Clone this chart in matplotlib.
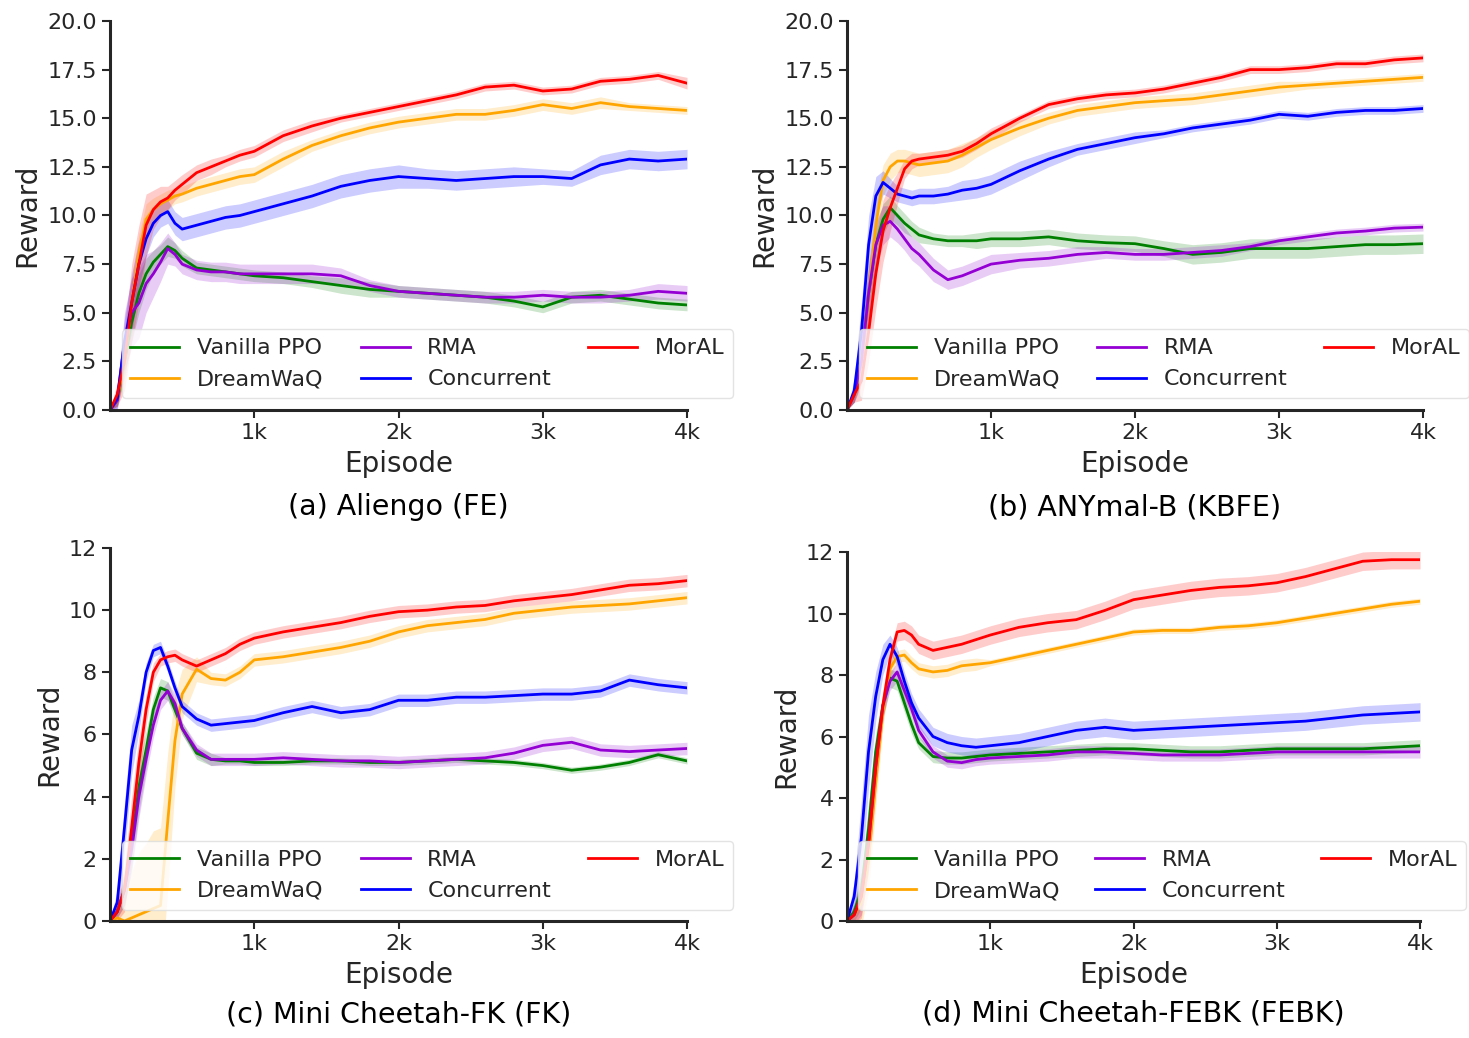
import matplotlib.pyplot as plt
import numpy as np

episodes = [0, 50, 100, 150, 200, 250, 300, 350, 400, 450, 500, 600, 700, 800, 900,
            1000, 1200, 1400, 1600, 1800, 2000, 2200, 2400, 2600, 2800, 3000,
            3200, 3400, 3600, 3800, 4000]

methods = ['Vanilla PPO', 'DreamWaQ', 'RMA', 'Concurrent', 'MorAL']
colors = ['green', 'orange', 'darkviolet', 'blue', 'red']

# (a) Aliengo (FE)
a_ppo = [0, 0.5, 2.5, 4.5, 6.0, 7.0, 7.6, 8.0, 8.4, 8.2, 7.8, 7.3, 7.2, 7.1, 7.0, 6.9, 6.8, 6.6, 6.4, 6.2, 6.1, 6.0, 5.9, 5.8, 5.6, 5.3, 5.8, 5.9, 5.7, 5.5, 5.4]
a_dwq = [0, 0.6, 2.5, 5.5, 8.0, 9.8, 10.3, 10.6, 10.8, 11.0, 11.1, 11.4, 11.6, 11.8, 12.0, 12.1, 12.9, 13.6, 14.1, 14.5, 14.8, 15.0, 15.2, 15.2, 15.4, 15.7, 15.5, 15.8, 15.6, 15.5, 15.4]
a_rma = [0, 0.5, 3.5, 5.0, 5.5, 6.5, 7.0, 7.6, 8.3, 8.0, 7.5, 7.2, 7.1, 7.1, 7.0, 7.0, 7.0, 7.0, 6.9, 6.4, 6.1, 6.0, 5.9, 5.8, 5.8, 5.9, 5.8, 5.8, 5.9, 6.1, 6.0]
a_con = [0, 0.6, 3.5, 5.5, 7.5, 8.8, 9.6, 10.0, 10.2, 9.6, 9.3, 9.5, 9.7, 9.9, 10.0, 10.2, 10.6, 11.0, 11.5, 11.8, 12.0, 11.9, 11.8, 11.9, 12.0, 12.0, 11.9, 12.6, 12.9, 12.8, 12.9]
a_mor = [0, 0.8, 2.5, 5.5, 7.5, 9.5, 10.3, 10.7, 10.9, 11.3, 11.6, 12.2, 12.5, 12.8, 13.1, 13.3, 14.1, 14.6, 15.0, 15.3, 15.6, 15.9, 16.2, 16.6, 16.7, 16.4, 16.5, 16.9, 17.0, 17.2, 16.8]
a_ppo_sd = [0, 0.3, 0.8, 1.0, 1.0, 0.8, 0.6, 0.5, 0.5, 0.4, 0.4, 0.3, 0.3, 0.3, 0.3, 0.3, 0.3, 0.3, 0.4, 0.4, 0.3, 0.3, 0.3, 0.3, 0.3, 0.3, 0.3, 0.3, 0.3, 0.3, 0.3]
a_dwq_sd = [0, 0.4, 1.0, 1.2, 1.0, 0.8, 0.6, 0.5, 0.5, 0.4, 0.4, 0.4, 0.4, 0.4, 0.4, 0.4, 0.4, 0.3, 0.3, 0.3, 0.3, 0.3, 0.3, 0.3, 0.3, 0.3, 0.3, 0.3, 0.2, 0.2, 0.2]
a_rma_sd = [0, 0.5, 1.5, 1.8, 1.8, 1.5, 1.2, 1.0, 0.8, 0.6, 0.5, 0.5, 0.5, 0.5, 0.5, 0.5, 0.5, 0.5, 0.4, 0.3, 0.3, 0.3, 0.3, 0.3, 0.3, 0.3, 0.3, 0.3, 0.3, 0.4, 0.4]
a_con_sd = [0, 0.5, 1.2, 1.5, 1.2, 0.9, 0.7, 0.6, 0.6, 0.6, 0.6, 0.6, 0.6, 0.6, 0.6, 0.6, 0.6, 0.6, 0.6, 0.6, 0.6, 0.5, 0.5, 0.5, 0.5, 0.4, 0.4, 0.5, 0.5, 0.5, 0.5]
a_mor_sd = [0, 0.6, 1.5, 2.0, 2.0, 1.6, 1.0, 0.8, 0.6, 0.5, 0.5, 0.4, 0.4, 0.3, 0.3, 0.3, 0.3, 0.3, 0.2, 0.2, 0.2, 0.2, 0.2, 0.2, 0.2, 0.2, 0.2, 0.2, 0.2, 0.2, 0.3]

# (b) ANYmal-B (KBFE)
b_ppo = [0, 0.8, 2.5, 6.0, 8.5, 9.8, 10.4, 10.0, 9.6, 9.3, 9.0, 8.8, 8.7, 8.7, 8.7, 8.8, 8.8, 8.9, 8.7, 8.6, 8.55, 8.3, 8.0, 8.1, 8.3, 8.3, 8.3, 8.4, 8.5, 8.5, 8.55]
b_dwq = [0, 0.8, 2.5, 6.0, 9.5, 11.8, 12.5, 12.8, 12.8, 12.7, 12.6, 12.7, 12.8, 13.1, 13.5, 13.9, 14.5, 15.0, 15.4, 15.6, 15.8, 15.9, 16.0, 16.2, 16.4, 16.6, 16.7, 16.8, 16.9, 17.0, 17.1]
b_rma = [0, 0.8, 2.5, 6.0, 8.5, 9.5, 9.7, 9.3, 8.8, 8.3, 8.0, 7.2, 6.7, 6.9, 7.2, 7.5, 7.7, 7.8, 8.0, 8.1, 8.0, 8.0, 8.1, 8.2, 8.4, 8.7, 8.9, 9.1, 9.2, 9.35, 9.4]
b_con = [0, 1.0, 4.0, 8.5, 11.0, 11.7, 11.4, 11.1, 11.0, 10.9, 11.0, 11.0, 11.1, 11.3, 11.4, 11.6, 12.3, 12.9, 13.4, 13.7, 14.0, 14.2, 14.5, 14.7, 14.9, 15.2, 15.1, 15.3, 15.4, 15.4, 15.5]
b_mor = [0, 0.8, 1.5, 4.0, 7.0, 9.2, 10.4, 11.4, 12.4, 12.8, 12.9, 13.0, 13.1, 13.3, 13.7, 14.2, 15.0, 15.7, 16.0, 16.2, 16.3, 16.5, 16.8, 17.1, 17.5, 17.5, 17.6, 17.8, 17.8, 18.0, 18.1]
b_ppo_sd = [0, 0.4, 1.0, 1.2, 1.0, 0.8, 0.6, 0.5, 0.5, 0.4, 0.4, 0.3, 0.3, 0.3, 0.4, 0.4, 0.4, 0.4, 0.4, 0.4, 0.4, 0.4, 0.5, 0.5, 0.5, 0.5, 0.5, 0.5, 0.5, 0.5, 0.5]
b_dwq_sd = [0, 0.4, 1.0, 1.4, 1.2, 0.8, 0.7, 0.6, 0.6, 0.6, 0.6, 0.6, 0.6, 0.6, 0.5, 0.5, 0.4, 0.3, 0.3, 0.3, 0.3, 0.3, 0.3, 0.3, 0.3, 0.3, 0.2, 0.2, 0.2, 0.2, 0.2]
b_rma_sd = [0, 0.4, 1.2, 1.5, 1.2, 1.0, 0.8, 0.7, 0.6, 0.6, 0.6, 0.6, 0.5, 0.5, 0.5, 0.5, 0.4, 0.4, 0.4, 0.3, 0.3, 0.3, 0.3, 0.3, 0.2, 0.2, 0.2, 0.2, 0.2, 0.2, 0.2]
b_con_sd = [0, 0.6, 1.5, 1.5, 1.0, 0.6, 0.5, 0.4, 0.4, 0.4, 0.4, 0.4, 0.4, 0.5, 0.5, 0.5, 0.5, 0.4, 0.3, 0.3, 0.3, 0.2, 0.2, 0.2, 0.2, 0.2, 0.2, 0.2, 0.2, 0.2, 0.2]
b_mor_sd = [0, 0.4, 1.0, 1.5, 1.8, 1.6, 1.2, 0.8, 0.5, 0.4, 0.3, 0.3, 0.3, 0.3, 0.3, 0.3, 0.2, 0.2, 0.2, 0.2, 0.2, 0.2, 0.2, 0.2, 0.2, 0.2, 0.2, 0.2, 0.2, 0.2, 0.2]

# (c) Mini Cheetah-FK (FK)
c_ppo = [0, 0.3, 1.0, 2.5, 4.3, 5.5, 6.8, 7.5, 7.4, 6.8, 6.2, 5.4, 5.2, 5.15, 5.15, 5.1, 5.1, 5.15, 5.15, 5.1, 5.1, 5.15, 5.2, 5.15, 5.1, 5.0, 4.85, 4.95, 5.1, 5.35, 5.15]
c_dwq = [0, 0.1, 0.0, 0.1, 0.2, 0.3, 0.4, 0.5, 3.2, 5.8, 7.3, 8.1, 7.8, 7.75, 8.0, 8.4, 8.5, 8.65, 8.8, 9.0, 9.3, 9.5, 9.6, 9.7, 9.9, 10.0, 10.1, 10.15, 10.2, 10.3, 10.4]
c_rma = [0, 0.3, 1.0, 2.3, 4.0, 5.2, 6.3, 7.1, 7.4, 7.0, 6.2, 5.5, 5.2, 5.2, 5.2, 5.2, 5.25, 5.2, 5.15, 5.15, 5.1, 5.15, 5.2, 5.25, 5.4, 5.65, 5.75, 5.5, 5.45, 5.5, 5.55]
c_con = [0, 0.6, 3.0, 5.5, 6.6, 8.0, 8.7, 8.8, 8.2, 7.5, 6.9, 6.5, 6.3, 6.35, 6.4, 6.45, 6.7, 6.9, 6.7, 6.8, 7.1, 7.1, 7.2, 7.2, 7.25, 7.3, 7.3, 7.4, 7.75, 7.6, 7.5]
c_mor = [0, 0.3, 1.0, 3.0, 5.1, 6.8, 8.0, 8.4, 8.5, 8.55, 8.4, 8.2, 8.4, 8.6, 8.9, 9.1, 9.3, 9.45, 9.6, 9.8, 9.95, 10.0, 10.1, 10.15, 10.3, 10.4, 10.5, 10.65, 10.8, 10.85, 10.95]
c_ppo_sd = [0, 0.2, 0.5, 0.8, 0.8, 0.6, 0.4, 0.3, 0.3, 0.3, 0.2, 0.2, 0.2, 0.1, 0.1, 0.1, 0.1, 0.1, 0.1, 0.1, 0.1, 0.1, 0.1, 0.1, 0.1, 0.1, 0.1, 0.1, 0.1, 0.1, 0.1]
c_dwq_sd = [0, 0.3, 0.8, 1.5, 2.0, 2.2, 2.5, 2.5, 2.2, 1.5, 0.8, 0.4, 0.2, 0.2, 0.2, 0.2, 0.2, 0.2, 0.2, 0.2, 0.2, 0.2, 0.2, 0.2, 0.2, 0.2, 0.2, 0.2, 0.2, 0.2, 0.2]
c_rma_sd = [0, 0.2, 0.5, 0.7, 0.7, 0.5, 0.4, 0.3, 0.3, 0.3, 0.2, 0.2, 0.2, 0.2, 0.2, 0.2, 0.2, 0.2, 0.2, 0.2, 0.2, 0.2, 0.2, 0.2, 0.2, 0.2, 0.2, 0.2, 0.2, 0.2, 0.2]
c_con_sd = [0, 0.4, 0.8, 0.8, 0.5, 0.3, 0.2, 0.2, 0.2, 0.2, 0.2, 0.2, 0.2, 0.2, 0.2, 0.2, 0.2, 0.2, 0.2, 0.2, 0.2, 0.2, 0.2, 0.2, 0.2, 0.2, 0.2, 0.2, 0.2, 0.2, 0.2]
c_mor_sd = [0, 0.3, 0.7, 1.0, 0.8, 0.5, 0.3, 0.2, 0.2, 0.2, 0.2, 0.2, 0.2, 0.2, 0.2, 0.2, 0.2, 0.2, 0.2, 0.2, 0.2, 0.2, 0.2, 0.2, 0.2, 0.2, 0.2, 0.2, 0.2, 0.2, 0.2]

# (d) Mini Cheetah-FEBK (FEBK)
d_ppo = [0, 0.3, 1.0, 3.0, 5.5, 7.0, 7.9, 7.8, 7.1, 6.4, 5.8, 5.35, 5.3, 5.3, 5.35, 5.4, 5.45, 5.5, 5.55, 5.6, 5.6, 5.55, 5.5, 5.5, 5.55, 5.6, 5.6, 5.6, 5.6, 5.65, 5.7]
d_dwq = [0, 0.2, 0.6, 2.0, 4.5, 6.8, 8.2, 8.6, 8.65, 8.4, 8.2, 8.1, 8.15, 8.3, 8.35, 8.4, 8.6, 8.8, 9.0, 9.2, 9.4, 9.45, 9.45, 9.55, 9.6, 9.7, 9.85, 10.0, 10.15, 10.3, 10.4]
d_rma = [0, 0.2, 0.8, 2.5, 5.0, 7.0, 7.8, 8.1, 7.5, 6.9, 6.2, 5.5, 5.2, 5.15, 5.25, 5.3, 5.35, 5.4, 5.5, 5.5, 5.45, 5.4, 5.4, 5.4, 5.45, 5.5, 5.5, 5.5, 5.5, 5.5, 5.5]
d_con = [0, 0.8, 2.7, 5.5, 7.3, 8.5, 9.0, 8.6, 7.8, 7.1, 6.6, 6.0, 5.8, 5.7, 5.65, 5.7, 5.8, 6.0, 6.2, 6.3, 6.2, 6.25, 6.3, 6.35, 6.4, 6.45, 6.5, 6.6, 6.7, 6.75, 6.8]
d_mor = [0, 0.2, 0.8, 2.5, 5.0, 7.0, 8.5, 9.4, 9.45, 9.3, 9.0, 8.8, 8.9, 9.0, 9.15, 9.3, 9.55, 9.7, 9.8, 10.1, 10.45, 10.6, 10.75, 10.85, 10.9, 11.0, 11.2, 11.45, 11.7, 11.75, 11.75]
d_ppo_sd = [0, 0.3, 0.6, 0.8, 0.6, 0.4, 0.3, 0.3, 0.3, 0.3, 0.2, 0.2, 0.2, 0.2, 0.2, 0.2, 0.2, 0.2, 0.2, 0.2, 0.2, 0.2, 0.2, 0.2, 0.2, 0.2, 0.2, 0.2, 0.2, 0.2, 0.2]
d_dwq_sd = [0, 0.3, 0.8, 1.0, 0.8, 0.5, 0.3, 0.2, 0.2, 0.2, 0.2, 0.2, 0.2, 0.2, 0.2, 0.1, 0.1, 0.1, 0.1, 0.1, 0.1, 0.1, 0.1, 0.1, 0.1, 0.1, 0.1, 0.1, 0.1, 0.1, 0.1]
d_rma_sd = [0, 0.3, 0.6, 0.8, 0.6, 0.4, 0.3, 0.3, 0.3, 0.2, 0.2, 0.2, 0.2, 0.2, 0.2, 0.2, 0.2, 0.2, 0.2, 0.2, 0.2, 0.2, 0.2, 0.2, 0.2, 0.2, 0.2, 0.2, 0.2, 0.2, 0.2]
d_con_sd = [0, 0.5, 1.2, 1.2, 0.8, 0.5, 0.3, 0.3, 0.3, 0.3, 0.3, 0.3, 0.3, 0.3, 0.3, 0.3, 0.3, 0.3, 0.3, 0.3, 0.3, 0.3, 0.3, 0.3, 0.3, 0.3, 0.3, 0.3, 0.3, 0.3, 0.3]
d_mor_sd = [0, 0.3, 0.7, 0.9, 0.8, 0.5, 0.3, 0.3, 0.3, 0.3, 0.3, 0.3, 0.3, 0.3, 0.3, 0.3, 0.3, 0.3, 0.3, 0.3, 0.3, 0.3, 0.3, 0.3, 0.3, 0.3, 0.3, 0.3, 0.3, 0.3, 0.3]

panels = [
    ('(a) Aliengo (FE)', [a_ppo, a_dwq, a_rma, a_con, a_mor],
     [a_ppo_sd, a_dwq_sd, a_rma_sd, a_con_sd, a_mor_sd], 20, np.arange(0, 20.1, 2.5), '{:.1f}'),
    ('(b) ANYmal-B (KBFE)', [b_ppo, b_dwq, b_rma, b_con, b_mor],
     [b_ppo_sd, b_dwq_sd, b_rma_sd, b_con_sd, b_mor_sd], 20, np.arange(0, 20.1, 2.5), '{:.1f}'),
    ('(c) Mini Cheetah-FK (FK)', [c_ppo, c_dwq, c_rma, c_con, c_mor],
     [c_ppo_sd, c_dwq_sd, c_rma_sd, c_con_sd, c_mor_sd], 12, np.arange(0, 13, 2), '{:.0f}'),
    ('(d) Mini Cheetah-FEBK (FEBK)', [d_ppo, d_dwq, d_rma, d_con, d_mor],
     [d_ppo_sd, d_dwq_sd, d_rma_sd, d_con_sd, d_mor_sd], 12, np.arange(0, 13, 2), '{:.0f}'),
]

xticks = [1000, 2000, 3000, 4000]
xticklabels = ['1k', '2k', '3k', '4k']

# axes rectangles in figure coords
rects = [
    [0.0749, 0.605, 0.3928, 0.3748],
    [0.5766, 0.605, 0.3921, 0.3748],
    [0.0749, 0.1127, 0.3928, 0.3594],
    [0.5766, 0.1127, 0.3901, 0.3555],
]

ink = '#262626'
fig = plt.figure(figsize=(14.69, 10.38), dpi=100)
x = np.array(episodes)

for rect, (title, series, sds, ymax, yticks, fmt) in zip(rects, panels):
    ax = fig.add_axes(rect)
    for vals, sd, col, name in zip(series, sds, colors, methods):
        v = np.array(vals)
        s = np.array(sd)
        ax.fill_between(x, v - s, v + s, color=col, alpha=0.2, lw=0)
        ax.plot(x, v, color=col, lw=2, label=name)
    ax.set_xlim(0, 4000)
    ax.set_ylim(0, ymax)
    ax.set_xticks(xticks)
    ax.set_xticklabels(xticklabels)
    ax.set_yticks(yticks)
    ax.set_yticklabels([fmt.format(t) for t in yticks])
    ax.tick_params(labelsize=16, colors=ink, width=1.5, length=6, direction='out')
    for sp in ['top', 'right']:
        ax.spines[sp].set_visible(False)
    for sp in ['left', 'bottom']:
        ax.spines[sp].set_linewidth(2.2)
        ax.spines[sp].set_color(ink)
    ax.set_ylabel('Reward', fontsize=20, color=ink)
    ax.set_xlabel('Episode', fontsize=20, color=ink, labelpad=5)
    ax.text(0.5, -0.25, title, transform=ax.transAxes, ha='center', va='center',
            fontsize=20.5, color='black')
    ax.legend(loc='lower left', bbox_to_anchor=(0.02, 0.03, 1.06, 0.19), mode='expand',
              ncol=3, fontsize=16, handlelength=2.2, framealpha=0.8,
              edgecolor='#dddddd', labelcolor=ink, borderaxespad=0)

fig.savefig('out.png', dpi=100)
